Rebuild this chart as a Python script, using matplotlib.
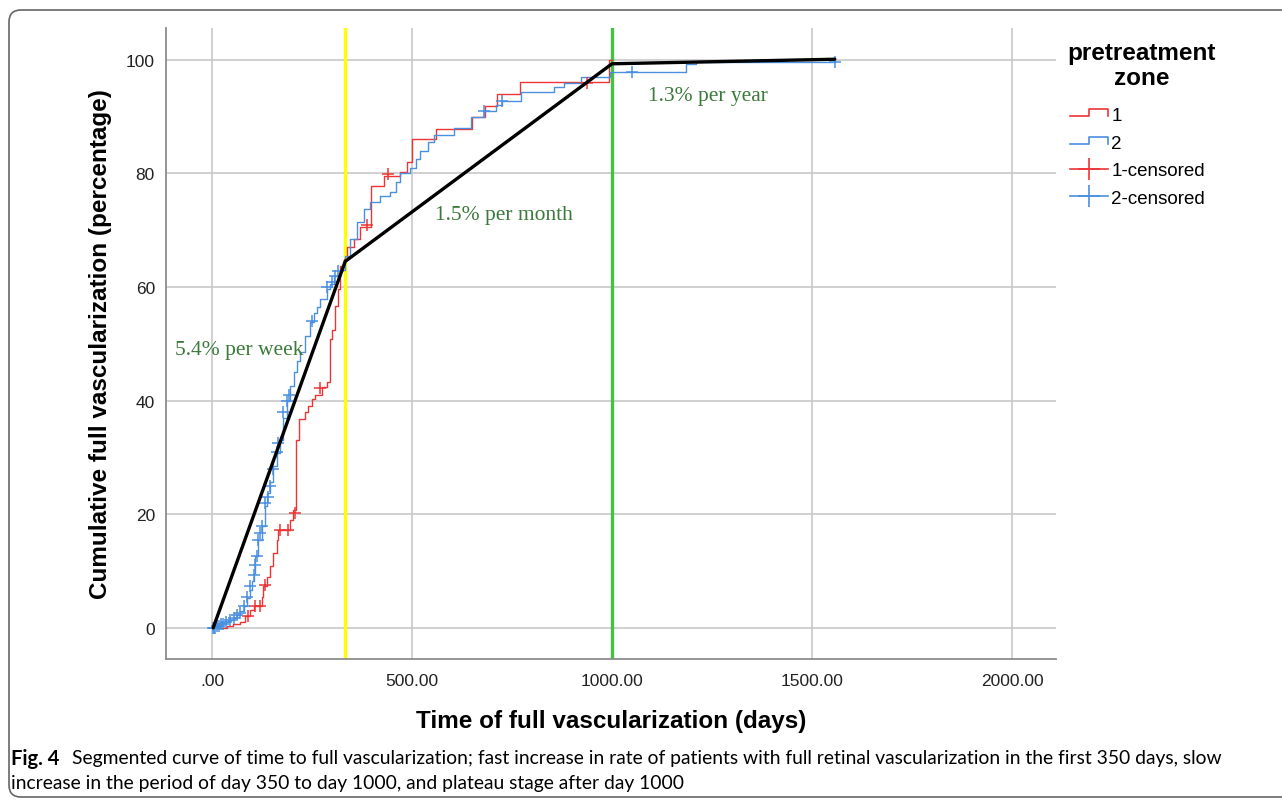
import matplotlib
matplotlib.use('Agg')
import matplotlib.pyplot as plt
from matplotlib.lines import Line2D
from matplotlib.legend_handler import HandlerLine2D
from matplotlib.patches import FancyBboxPatch

# ---- data (days, cumulative %) ----
zone1_days = [0, 37, 53, 70, 83, 95, 105, 124, 128, 137, 145, 153, 162, 166, 195, 203, 210, 218, 233, 241,
              249, 258, 275, 287, 295, 300, 308, 315, 320, 329, 337, 354, 371, 397, 430, 471, 488, 500, 559,
              650, 683, 713, 771, 993, 1000]
zone1_pct = [0, 0.3, 0.6, 1.1, 2.0, 3.2, 3.8, 5.5, 7.3, 9.0, 10.8, 13.2, 15.5, 17.3, 19.0, 20.8, 33.0, 36.7,
             38.0, 39.0, 40.2, 41.0, 42.4, 43.2, 50.8, 52.5, 56.7, 59.6, 63.7, 65.0, 67.0, 68.5, 70.5, 77.8,
             79.6, 80.2, 82.0, 86.0, 87.8, 89.9, 91.9, 94.0, 96.1, 99.9, 99.9]
zone1_cens_days = [91, 108, 120, 133, 170, 191, 208, 270, 388, 441, 938]
zone1_cens_pct = [2.0, 3.8, 3.8, 7.6, 17.3, 17.3, 20.2, 42.2, 71.0, 79.9, 96.0]

zone2_days = [0, 5, 15, 25, 40, 55, 62, 70, 79, 88, 95, 100, 104, 108, 116, 124, 133, 137, 145, 153, 162,
              170, 178, 187, 196, 204, 212, 220, 233, 245, 254, 262, 270, 287, 295, 304, 320, 333, 345, 362,
              380, 396, 420, 446, 460, 471, 496, 510, 521, 540, 555, 605, 647, 680, 710, 726, 772, 856, 881,
              922, 995, 1186, 1210, 1557]
zone2_pct = [0, 0.3, 0.6, 1.0, 1.4, 1.8, 2.2, 3.0, 3.8, 5.2, 6.7, 8.2, 9.7, 12.6, 15.5, 17.9, 21.4, 23.8,
             25.6, 28.4, 30.8, 33.0, 37.0, 40.0, 42.5, 45.0, 47.0, 48.5, 51.4, 53.8, 55.5, 56.5, 57.8, 59.6,
             60.5, 62.0, 63.0, 65.5, 68.4, 71.5, 73.7, 75.0, 76.0, 76.7, 78.5, 80.0, 81.0, 82.5, 84.0, 85.5,
             86.7, 88.0, 90.0, 91.0, 92.0, 92.8, 94.3, 95.2, 96.0, 97.0, 97.9, 99.3, 99.6, 99.6]
zone2_cens_days = [2, 5, 8, 12, 18, 22, 28, 35, 45, 55, 62, 70, 79, 87, 95, 104, 108, 112, 116, 120, 124,
                   133, 141, 145, 153, 162, 166, 178, 187, 193, 249, 287, 300, 308, 316, 679, 725, 1049, 1557]
zone2_cens_pct = [0, 0, 0, 0.3, 0.3, 0.6, 0.6, 1.0, 1.4, 1.8, 2.2, 2.6, 3.8, 5.5, 7.3, 9.3, 11.0, 12.6,
                  15.5, 16.7, 17.9, 22.0, 23.0, 25.0, 28.0, 31.0, 32.6, 38.0, 40.0, 41.0, 54.0, 60.0, 60.8,
                  62.0, 62.8, 91.0, 92.8, 97.8, 99.6]

seg_days = [3, 333, 1000, 1557]
seg_pct = [0, 64.5, 99.3, 100.1]
phase_days = [333, 1000]
rate_labels = ['5.4% per week', '1.5% per month', '1.3% per year']
rate_days = [-93, 558, 1091]
rate_pct = [49, 72.7, 93.7]

x_ticks = [0, 500, 1000, 1500, 2000]
x_ticklabels = ['.00', '500.00', '1000.00', '1500.00', '2000.00']
y_ticks = [0, 20, 40, 60, 80, 100]

RED = '#ee3535'
BLUE = '#4a8fe0'
TXT_GREEN = '#3a7a3a'

plt.rcParams['font.family'] = ['Liberation Sans', 'DejaVu Sans']


class StepHandler(HandlerLine2D):
    # draws the little step symbol SPSS uses in the legend
    def create_artists(self, legend, orig_handle, xdescent, ydescent, width, height, fontsize, trans):
        x0 = -xdescent
        x1 = x0 + width
        xm = x0 + width * 0.5
        ylo = -ydescent + height * 0.3
        yhi = -ydescent + height * 0.85
        ln = Line2D([x0, xm, xm, x1, x1], [ylo, ylo, yhi, yhi, ylo],
                    color=orig_handle.get_color(), lw=orig_handle.get_linewidth())
        ln.set_transform(trans)
        return [ln]


fig = plt.figure(figsize=(12.82, 8.03), dpi=100)
ax = fig.add_axes([166 / 1282, 1 - 660 / 803, (1056 - 166) / 1282, (660 - 29) / 803])

# outer frame of the figure panel
frame = FancyBboxPatch((9 / 100, 5 / 100), 1300 / 100, 787 / 100,
                       boxstyle='round,pad=0,rounding_size=0.12',
                       transform=fig.dpi_scale_trans, fill=False, ec='#666666', lw=1.2, clip_on=False)
fig.patches.append(frame)

ax.set_xlim(-115, 2110)
ax.set_ylim(-5.5, 105.6)
ax.set_xticks(x_ticks)
ax.set_xticklabels(x_ticklabels)
ax.set_yticks(y_ticks)
ax.tick_params(length=0, labelsize=12.5, colors='#222222')
ax.tick_params(axis='x', pad=10)
ax.tick_params(axis='y', pad=8)
ax.grid(True, color='#c8c8c8', lw=1.2)
ax.set_axisbelow(True)
for s in ['top', 'right']:
    ax.spines[s].set_visible(False)
for s in ['left', 'bottom']:
    ax.spines[s].set_color('#8c8c8c')
    ax.spines[s].set_linewidth(1.3)

# phase boundaries
ax.axvline(phase_days[0], color='#ffff00', lw=2.4, zorder=2)
ax.axvline(phase_days[1], color='#44c244', lw=2.4, zorder=2)

l1, = ax.step(zone1_days, zone1_pct, where='post', color=RED, lw=1.0, zorder=3)
l2, = ax.step(zone2_days, zone2_pct, where='post', color=BLUE, lw=1.0, zorder=3)
c1, = ax.plot(zone1_cens_days, zone1_cens_pct, ls='none', marker='+', ms=8, mew=1.1, color=RED, zorder=4)
c2, = ax.plot(zone2_cens_days, zone2_cens_pct, ls='none', marker='+', ms=8, mew=1.1, color=BLUE, zorder=4)

ax.plot(seg_days, seg_pct, color='black', lw=2.4, zorder=5, solid_capstyle='round')

for lab, d, p in zip(rate_labels, rate_days, rate_pct):
    ax.text(d, p, lab, color=TXT_GREEN, fontsize=15.5, family=['Liberation Serif', 'DejaVu Serif'],
            ha='left', va='center', zorder=6)

ax.set_xlabel('Time of full vascularization (days)', fontsize=17.5, fontweight='bold', labelpad=15)
ax.set_ylabel('Cumulative full vascularization (percentage)', fontsize=17.5, fontweight='bold', labelpad=10)

# legend title drawn separately so the gap to the entries matches SPSS
fig.text(1142 / 1282, 1 - 66 / 803, 'pretreatment\nzone', fontsize=17.5, fontweight='bold',
         ha='center', va='center', multialignment='center', linespacing=1.12)

h1 = Line2D([], [], color=RED, lw=1.2)
h2 = Line2D([], [], color=BLUE, lw=1.2)
h3 = Line2D([], [], color=RED, lw=1.2, marker='+', ms=16, mew=1.2)
h4 = Line2D([], [], color=BLUE, lw=1.2, marker='+', ms=16, mew=1.2)
leg = fig.legend([h1, h2, h3, h4], ['1', '2', '1-censored', '2-censored'],
                 handler_map={h1: StepHandler(), h2: StepHandler()},
                 loc='upper left', bbox_to_anchor=(1070 / 1282, 1 - 108 / 803),
                 frameon=False, fontsize=13.5, handlelength=2.0, handletextpad=0.2,
                 labelspacing=0.56, borderpad=0, borderaxespad=0)

# caption
cap_font = ['Lato', 'DejaVu Sans']
fig.text(11 / 1282, 1 - 759 / 803, 'Fig. 4', fontsize=14.5, fontweight='bold', family=cap_font, va='center')
fig.text(72 / 1282, 1 - 759 / 803,
         'Segmented curve of time to full vascularization; fast increase in rate of patients with full '
         'retinal vascularization in the first 350 days, slow',
         fontsize=13.9, family=cap_font, va='center')
fig.text(11 / 1282, 1 - 784 / 803,
         'increase in the period of day 350 to day 1000, and plateau stage after day 1000',
         fontsize=13.9, family=cap_font, va='center')

fig.savefig('out.png', dpi=100)
